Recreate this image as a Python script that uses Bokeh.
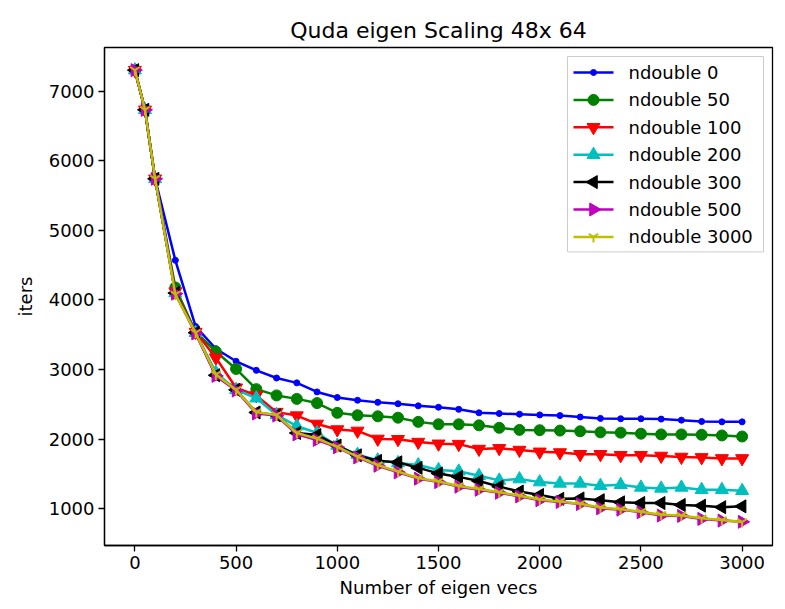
import math
from bokeh.plotting import figure
from bokeh.models import Range1d, FixedTicker, ColumnDataSource
from bokeh.core.properties import value
from bokeh.embed import file_html
from bokeh.resources import INLINE

x_vecs = [0, 50, 100, 200, 300, 400, 500, 600, 700, 800, 900, 1000, 1100, 1200, 1300,
          1400, 1500, 1600, 1700, 1800, 1900, 2000, 2100, 2200, 2300, 2400, 2500, 2600,
          2700, 2800, 2900, 3000]

nd0 = [7300, 6730, 5740, 4570, 3620, 3300, 3120, 2990, 2880, 2810, 2680, 2600, 2560, 2530, 2510,
       2480, 2460, 2430, 2380, 2370, 2360, 2350, 2340, 2320, 2300, 2295, 2295, 2290,
       2275, 2255, 2250, 2250]
nd50 = [7300, 6730, 5740, 4180, 3540, 3260, 3010, 2720, 2630, 2580, 2520, 2380, 2345, 2330, 2310,
        2250, 2215, 2215, 2200, 2165, 2135, 2130, 2125, 2115, 2100, 2095, 2080, 2070,
        2070, 2065, 2055, 2040]
nd100 = [7300, 6730, 5740, 4120, 3540, 3170, 2740, 2630, 2390, 2340, 2220, 2140, 2120, 2005, 2000,
         1960, 1935, 1930, 1860, 1870, 1845, 1820, 1810, 1785, 1785, 1770, 1770, 1760,
         1745, 1740, 1725, 1725]
nd200 = [7300, 6730, 5740, 4100, 3530, 2960, 2710, 2590, 2350, 2190, 2090, 1910, 1780, 1700, 1660,
         1630, 1560, 1540, 1476, 1410, 1429, 1385, 1366, 1366, 1333, 1347, 1309, 1295,
         1309, 1275, 1275, 1261]
nd300 = [7300, 6730, 5740, 4100, 3530, 2920, 2710, 2385, 2345, 2090, 2060, 1910, 1770, 1690, 1670,
         1590, 1510, 1460, 1400, 1320, 1250, 1200, 1145, 1150, 1125, 1095, 1085, 1085,
         1057, 1047, 1025, 1037]
nd500 = [7300, 6730, 5740, 4090, 3520, 2910, 2700, 2370, 2340, 2070, 1990, 1885, 1740, 1620, 1525,
         1435, 1385, 1320, 1275, 1232, 1180, 1125, 1100, 1070, 1010, 990, 952, 905,
         900, 857, 833, 815]
nd3000 = [7300, 6730, 5740, 4080, 3530, 2930, 2710, 2390, 2350, 2090, 2010, 1890, 1750, 1630, 1535,
          1445, 1395, 1330, 1285, 1240, 1190, 1135, 1105, 1075, 1020, 995, 960, 915,
          905, 865, 840, 812]

labels = ["ndouble 0", "ndouble 50", "ndouble 100", "ndouble 200", "ndouble 300",
          "ndouble 500", "ndouble 3000"]
series = [nd0, nd50, nd100, nd200, nd300, nd500, nd3000]

colors = ["#0000ff", "#008000", "#ff0000", "#00bfbf", "#000000", "#bf00bf", "#bfbf00"]
markers = ["circle", "circle", "inverted_triangle", "triangle", "triangle", "triangle", "y"]
sizes = [6, 11, 13, 13, 13, 13, 11]
angles = [0, 0, 0, 0, math.pi / 2, -math.pi / 2, 0]

FONT = "DejaVu Sans"

W, H = 776, 600
BL, BR, BT, BB = 104, 4, 47, 55
FW, FH = W - BL - BR, H - BT - BB

p = figure(width=W, height=H, output_backend="svg", toolbar_location=None,
           x_range=Range1d(-150, 3150), y_range=Range1d(475, 7625),
           min_border_left=BL, min_border_right=BR, min_border_top=BT, min_border_bottom=BB,
           title="Quda eigen Scaling 48x 64")
# pixel-space ranges for the legend box
p.extra_x_ranges = {"px": Range1d(0, FW)}
p.extra_y_ranges = {"px": Range1d(0, FH)}

p.title.align = "center"
p.title.text_font = FONT
p.title.text_font_size = "22px"
p.title.text_font_style = "normal"
p.title.text_color = "black"

p.grid.visible = False
p.outline_line_color = "black"
p.outline_line_width = 1.3
p.background_fill_color = "white"
p.border_fill_color = "white"

p.xaxis.ticker = FixedTicker(ticks=[0, 500, 1000, 1500, 2000, 2500, 3000])
p.yaxis.ticker = FixedTicker(ticks=[1000, 2000, 3000, 4000, 5000, 6000, 7000])
for ax in (p.xaxis[0], p.yaxis[0]):
    ax.major_label_text_font = FONT
    ax.major_label_text_font_size = "18px"
    ax.major_label_text_color = "black"
    ax.axis_label_text_font = FONT
    ax.axis_label_text_font_size = "18px"
    ax.axis_label_text_font_style = "normal"
    ax.axis_label_text_color = "black"
    ax.minor_tick_line_color = None
    ax.major_tick_out = 6
    ax.major_tick_in = 0
    ax.major_tick_line_width = 1.3
    ax.axis_line_width = 1.3
    ax.major_label_standoff = 4

p.xaxis.axis_label = "Number of eigen vecs"
p.yaxis.axis_label = "iters"
p.xaxis.axis_label_standoff = 5
p.yaxis.axis_label_standoff = 10
p.yaxis.major_label_orientation = "horizontal"

for ys, col, mk, sz, ang in zip(series, colors, markers, sizes, angles):
    src = ColumnDataSource(dict(x=x_vecs, y=ys))
    p.line("x", "y", source=src, line_color=col, line_width=2.5)
    if mk == "y":
        p.scatter("x", "y", source=src, marker=mk, size=sz, line_color=col, line_width=2)
    else:
        p.scatter("x", "y", source=src, marker=mk, size=sz, fill_color=col,
                  line_color=col, angle=ang)

# ---- legend (drawn in pixel space of the frame) ----
n = len(labels)
pitch = 27.4
box_l, box_r = FW - 9 - 196, FW - 9
box_t = FH - 9
row0 = box_t - 16
box_b = row0 - (n - 1) * pitch - 15
p.quad(left=[box_l], right=[box_r], top=[box_t], bottom=[box_b],
       fill_color="white", fill_alpha=0.8, line_color="#cccccc", line_width=1,
       x_range_name="px", y_range_name="px")
ln_x0 = box_l + 6
ln_x1 = ln_x0 + 40
mk_x = (ln_x0 + ln_x1) / 2
tx = ln_x1 + 15
for i, (lab, col, mk, sz, ang) in enumerate(zip(labels, colors, markers, sizes, angles)):
    yy = row0 - i * pitch
    p.segment(x0=[ln_x0], y0=[yy], x1=[ln_x1], y1=[yy], line_color=col, line_width=2.5,
              x_range_name="px", y_range_name="px")
    if mk == "y":
        p.scatter([mk_x], [yy], marker=mk, size=sz, line_color=col, line_width=2,
                  x_range_name="px", y_range_name="px")
    else:
        p.scatter([mk_x], [yy], marker=mk, size=sz, fill_color=col, line_color=col,
                  angle=ang, x_range_name="px", y_range_name="px")
    p.text([tx], [yy], text=[lab], text_font=value(FONT), text_font_size="18px",
           text_color="black", text_baseline="middle", text_align="left",
           x_range_name="px", y_range_name="px")

open("out.html", "w").write(file_html(p, INLINE))
